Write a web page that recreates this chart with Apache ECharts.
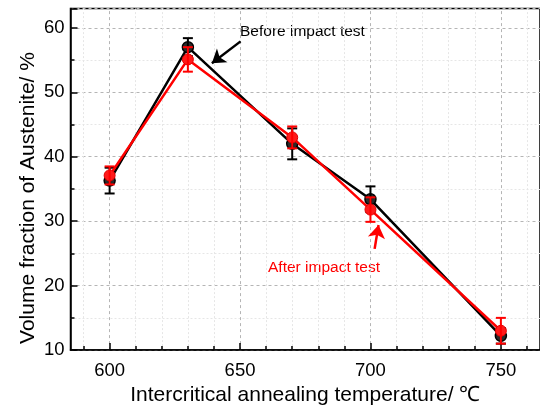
<!DOCTYPE html>
<html>
<head>
<meta charset="utf-8">
<script src="https://cdn.jsdelivr.net/npm/echarts@6/dist/echarts.min.js"></script>
<style>html,body{margin:0;padding:0;background:#fff;}#c{width:540px;height:411px;}</style>
</head>
<body>
<div id="c"></div>
<script>
const temps = [600, 630, 670, 700, 750];
const beforeVals = [36.3, 57.0, 42.0, 33.4, 12.2];
const beforeErr = [2.0, 1.4, 2.4, 2.0, 1.2];
const afterVals = [37.1, 55.1, 43.0, 31.8, 13.0];
const afterErr = [1.4, 1.9, 1.7, 1.9, 2.0];
const xMajor = [600, 650, 700, 750];
const xMinor = [590, 610, 620, 630, 640, 660, 670, 680, 690, 710, 720, 730, 740, 760];
const beforeArrow = [[650.2, 57.9], [639.2, 54.5]];
const afterArrow = [[701.6, 25.7], [703.1, 29.4]];
const beforeLabel = 'Before impact test';
const afterLabel = 'After impact test';
const xTitle = 'Intercritical annealing temperature/ \u2103';
const yTitle = 'Volume fraction of Austenite/ %';

const FONT = '"Liberation Sans", Arial, sans-serif';
const chart = echarts.init(document.getElementById('c'));

function pts(vals) { return temps.map((t, i) => [t, vals[i]]); }
function errs(vals, e) { return temps.map((t, i) => [t, vals[i] - e[i], vals[i] + e[i]]); }
function errRender(color) {
  return function (params, api) {
    const x = api.value(0);
    const lo = api.coord([x, api.value(1)]);
    const hi = api.coord([x, api.value(2)]);
    const w = 5;
    const st = { stroke: color, lineWidth: 2 };
    return { type: 'group', children: [
      { type: 'line', shape: { x1: lo[0], y1: lo[1], x2: hi[0], y2: hi[1] }, style: st },
      { type: 'line', shape: { x1: lo[0] - w, y1: lo[1], x2: lo[0] + w, y2: lo[1] }, style: st },
      { type: 'line', shape: { x1: hi[0] - w, y1: hi[1], x2: hi[0] + w, y2: hi[1] }, style: st }
    ]};
  };
}

const option = {
  animation: false,
  backgroundColor: '#fff',
  textStyle: { fontFamily: FONT },
  grid: { left: 70.5, top: 8.5, width: 473, height: 347.5, show: true, borderColor: '#000', borderWidth: 1.5, backgroundColor: 'transparent', containLabel: false },
  xAxis: [{
    type: 'value', min: 585, max: 765,
    name: xTitle, nameLocation: 'middle', nameGap: 30,
    nameTextStyle: { fontSize: 21, color: '#000', fontFamily: FONT },
    axisLine: { show: true, lineStyle: { color: '#000', width: 1.5 } },
    axisTick: { show: true, inside: true, length: 7, customValues: xMajor, lineStyle: { color: '#000', width: 1.5 } },
    axisLabel: { customValues: xMajor, fontSize: 18.5, color: '#000', margin: 11, fontFamily: FONT },
    splitLine: { show: false }
  }, {
    type: 'value', min: 585, max: 765, position: 'bottom',
    axisLine: { show: false },
    axisTick: { show: true, inside: true, length: 4, customValues: xMinor, lineStyle: { color: '#000', width: 1.5 } },
    axisLabel: { show: false },
    splitLine: { show: false }
  }],
  yAxis: {
    type: 'value', min: 10, max: 63, interval: 10,
    axisLine: { show: true, lineStyle: { color: '#000', width: 1.5 } },
    axisTick: { show: true, inside: true, length: 7, lineStyle: { color: '#000', width: 1.5 } },
    minorTick: { show: true, splitNumber: 2, length: 4, lineStyle: { color: '#000', width: 1.5 } },
    axisLabel: { fontSize: 18.5, color: '#000', margin: 6, fontFamily: FONT, showMaxLabel: false },
    splitLine: { show: true, lineStyle: { color: '#b5b5b5', type: [3, 3], width: 1 } },
    minorSplitLine: { show: true, lineStyle: { color: '#e6e6e6', type: [2, 2], width: 1 } }
  },
  series: [
    {
      type: 'line', data: pts(beforeVals), z: 3,
      lineStyle: { color: '#000', width: 2.5 },
      symbol: 'circle', symbolSize: 11,
      itemStyle: { color: '#2a2a2a', borderColor: '#000', borderWidth: 1.5 },
      markLine: {
        silent: true, symbol: ['none', 'none'], label: { show: false },
        animation: false,
        data: [
          ...xMajor.map(v => ({ xAxis: v, lineStyle: { color: '#b5b5b5', type: [3, 3], width: 1 } })),
          ...xMinor.map(v => ({ xAxis: v, lineStyle: { color: '#e6e6e6', type: [2, 2], width: 1 } }))
        ],
        z: 0
      }
    },
    {
      type: 'custom', data: errs(beforeVals, beforeErr), z: 4,
      renderItem: errRender('#000')
    },
    {
      type: 'line', data: pts(afterVals), z: 5,
      lineStyle: { color: '#ff0000', width: 2.5 },
      symbol: 'circle', symbolSize: 11,
      itemStyle: { color: '#ff1a1a', borderColor: '#e00000', borderWidth: 1 }
    },
    {
      type: 'custom', data: errs(afterVals, afterErr), z: 6,
      renderItem: errRender('#ff0000')
    },
    {
      type: 'line', data: [], z: 7,
      markLine: {
        silent: true, symbol: ['none', 'arrow'], symbolSize: 13, label: { show: false },
        data: [
          [{ coord: beforeArrow[0], lineStyle: { color: '#000', width: 2.5, type: 'solid' }, itemStyle: { color: '#000' } }, { coord: beforeArrow[1] }],
          [{ coord: afterArrow[0], lineStyle: { color: '#ff0000', width: 2.5, type: 'solid' }, itemStyle: { color: '#ff0000' } }, { coord: afterArrow[1] }]
        ]
      }
    }
  ],
  graphic: [
    { type: 'text', left: 240, top: 24, style: { text: beforeLabel, fontSize: 15.5, fill: '#000', fontFamily: FONT } },
    { type: 'text', left: 268, top: 260, style: { text: afterLabel, fontSize: 15.5, fill: '#ff0000', fontFamily: FONT } },
    { type: 'text', x: 28, y: 198, rotation: Math.PI / 2, style: { text: yTitle, fontSize: 21, fill: '#000', fontFamily: FONT, align: 'center', verticalAlign: 'middle' } }
  ]
};
chart.setOption(option);
</script>
</body>
</html>
